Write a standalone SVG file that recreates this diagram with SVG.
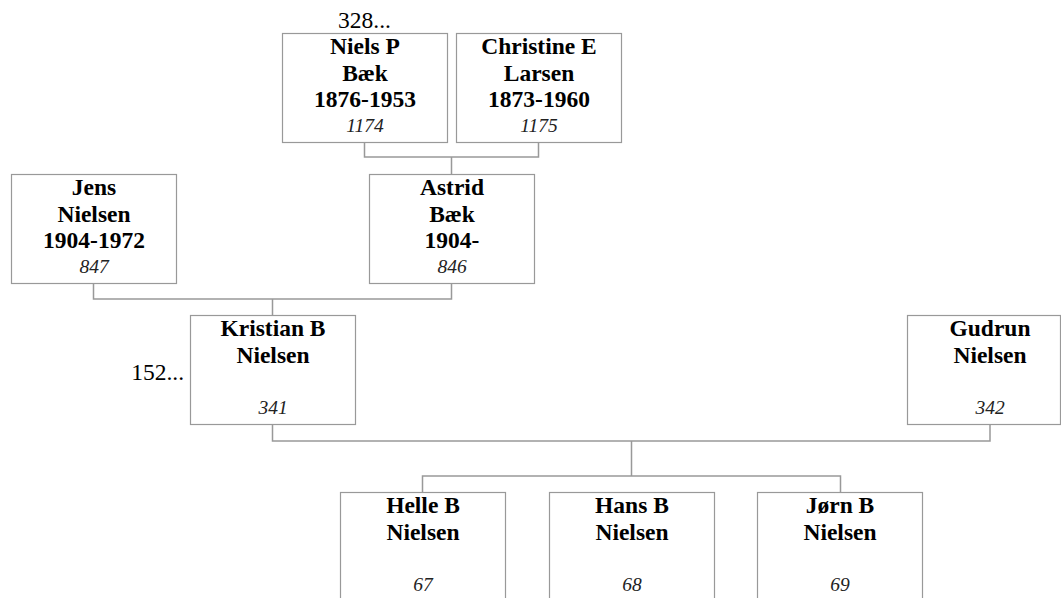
<svg xmlns="http://www.w3.org/2000/svg" width="1061" height="598" viewBox="0 0 1061 598">
<style>
.box{fill:#fff;stroke:#999;stroke-width:1.2}
.n{font-family:"Liberation Serif",serif;font-weight:bold;font-size:23.5px;text-anchor:middle;fill:#000}
.id{font-family:"Liberation Serif",serif;font-style:italic;font-size:19.5px;text-anchor:middle;fill:#222}
.lbl{font-family:"Liberation Serif",serif;font-size:23.5px;fill:#000}
.c{fill:none;stroke:#999;stroke-width:1.5}
</style>
<rect width="1061" height="598" fill="#fff"/>
<g id="connectors">
<path class="c" d="M364.5 142V157H538.5V142M451.5 157V174"/>
<path class="c" d="M93.5 283V299H451.5V283M272.5 299V315"/>
<path class="c" d="M272.5 424V441H990V424M631.5 441V476M422.5 492V476H840.5V492"/>
</g>
<text class="lbl" x="338" y="28">328...</text>
<text class="lbl" x="184" y="380" text-anchor="end">152...</text>
<g id="n1174">
<rect class="box" x="282.5" y="33.5" width="165" height="109"/>
<text class="n" x="365" y="54">Niels P</text>
<text class="n" x="365" y="81">Bæk</text>
<text class="n" x="365" y="107">1876-1953</text>
<text class="id" x="365" y="132">1174</text>
</g>
<g id="n1175">
<rect class="box" x="456.5" y="33.5" width="165" height="109"/>
<text class="n" x="539" y="54">Christine E</text>
<text class="n" x="539" y="81">Larsen</text>
<text class="n" x="539" y="107">1873-1960</text>
<text class="id" x="539" y="132">1175</text>
</g>
<g id="n847">
<rect class="box" x="11.5" y="174.5" width="165" height="109"/>
<text class="n" x="94" y="195">Jens</text>
<text class="n" x="94" y="222">Nielsen</text>
<text class="n" x="94" y="248">1904-1972</text>
<text class="id" x="94" y="273">847</text>
</g>
<g id="n846">
<rect class="box" x="369.5" y="174.5" width="165" height="109"/>
<text class="n" x="452" y="195">Astrid</text>
<text class="n" x="452" y="222">Bæk</text>
<text class="n" x="452" y="248">1904-</text>
<text class="id" x="452" y="273">846</text>
</g>
<g id="n341">
<rect class="box" x="190.5" y="315.5" width="165" height="109"/>
<text class="n" x="273" y="336">Kristian B</text>
<text class="n" x="273" y="363">Nielsen</text>
<text class="id" x="273" y="414">341</text>
</g>
<g id="n342">
<rect class="box" x="907.5" y="315.5" width="153" height="109"/>
<text class="n" x="990" y="336">Gudrun</text>
<text class="n" x="990" y="363">Nielsen</text>
<text class="id" x="990" y="414">342</text>
</g>
<g id="n67">
<rect class="box" x="340.5" y="492.5" width="165" height="109"/>
<text class="n" x="423" y="513">Helle B</text>
<text class="n" x="423" y="540">Nielsen</text>
<text class="id" x="423" y="591">67</text>
</g>
<g id="n68">
<rect class="box" x="549.5" y="492.5" width="165" height="109"/>
<text class="n" x="632" y="513">Hans B</text>
<text class="n" x="632" y="540">Nielsen</text>
<text class="id" x="632" y="591">68</text>
</g>
<g id="n69">
<rect class="box" x="757.5" y="492.5" width="165" height="109"/>
<text class="n" x="840" y="513">Jørn B</text>
<text class="n" x="840" y="540">Nielsen</text>
<text class="id" x="840" y="591">69</text>
</g>
</svg>
